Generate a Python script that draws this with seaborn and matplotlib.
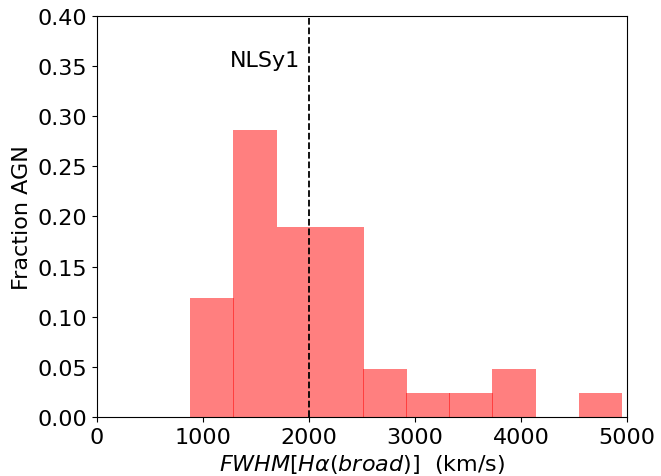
import matplotlib
matplotlib.use('Agg')
import matplotlib.pyplot as plt
import seaborn as sns

# histogram bins (km/s) and fraction of AGN in each bin
bin_edges = [880, 1287, 1694, 2101, 2508, 2914, 3321, 3728, 4135, 4542, 4949]
bin_centers = [1083, 1490, 1897, 2304, 2711, 3118, 3524, 3931, 4338, 4745]
fractions = [0.119, 0.286, 0.190, 0.190, 0.048, 0.024, 0.024, 0.048, 0.0, 0.024]

fig = plt.figure(figsize=(6.61, 4.77), dpi=100)
ax = fig.add_axes([0.1467, 0.1237, 0.802, 0.8407])

sns.histplot(x=bin_centers, weights=fractions, bins=bin_edges, color='red',
             alpha=0.5, linewidth=0, ax=ax)
# tiny overlap so the seams between neighbouring bars show like in the original
for p in ax.patches:
    p.set_width(p.get_width() + 7)

ax.axvline(2000, color='black', linestyle='--', linewidth=1.3)
ax.text(1250, 0.35, 'NLSy1', fontsize=16, va='baseline', ha='left')

ax.set_xlim(0, 5000)
ax.set_ylim(0, 0.4)
ax.set_xticks([0, 1000, 2000, 3000, 4000, 5000])
ax.set_yticks([0, 0.05, 0.1, 0.15, 0.2, 0.25, 0.3, 0.35, 0.4])
ax.set_yticklabels(['0.00', '0.05', '0.10', '0.15', '0.20', '0.25', '0.30', '0.35', '0.40'])
ax.tick_params(labelsize=16)
ax.set_xlabel(r'$FWHM[H\alpha(broad)]$  (km/s)', fontsize=16)
ax.set_ylabel('Fraction AGN', fontsize=16)

fig.savefig('out.png', dpi=100)
